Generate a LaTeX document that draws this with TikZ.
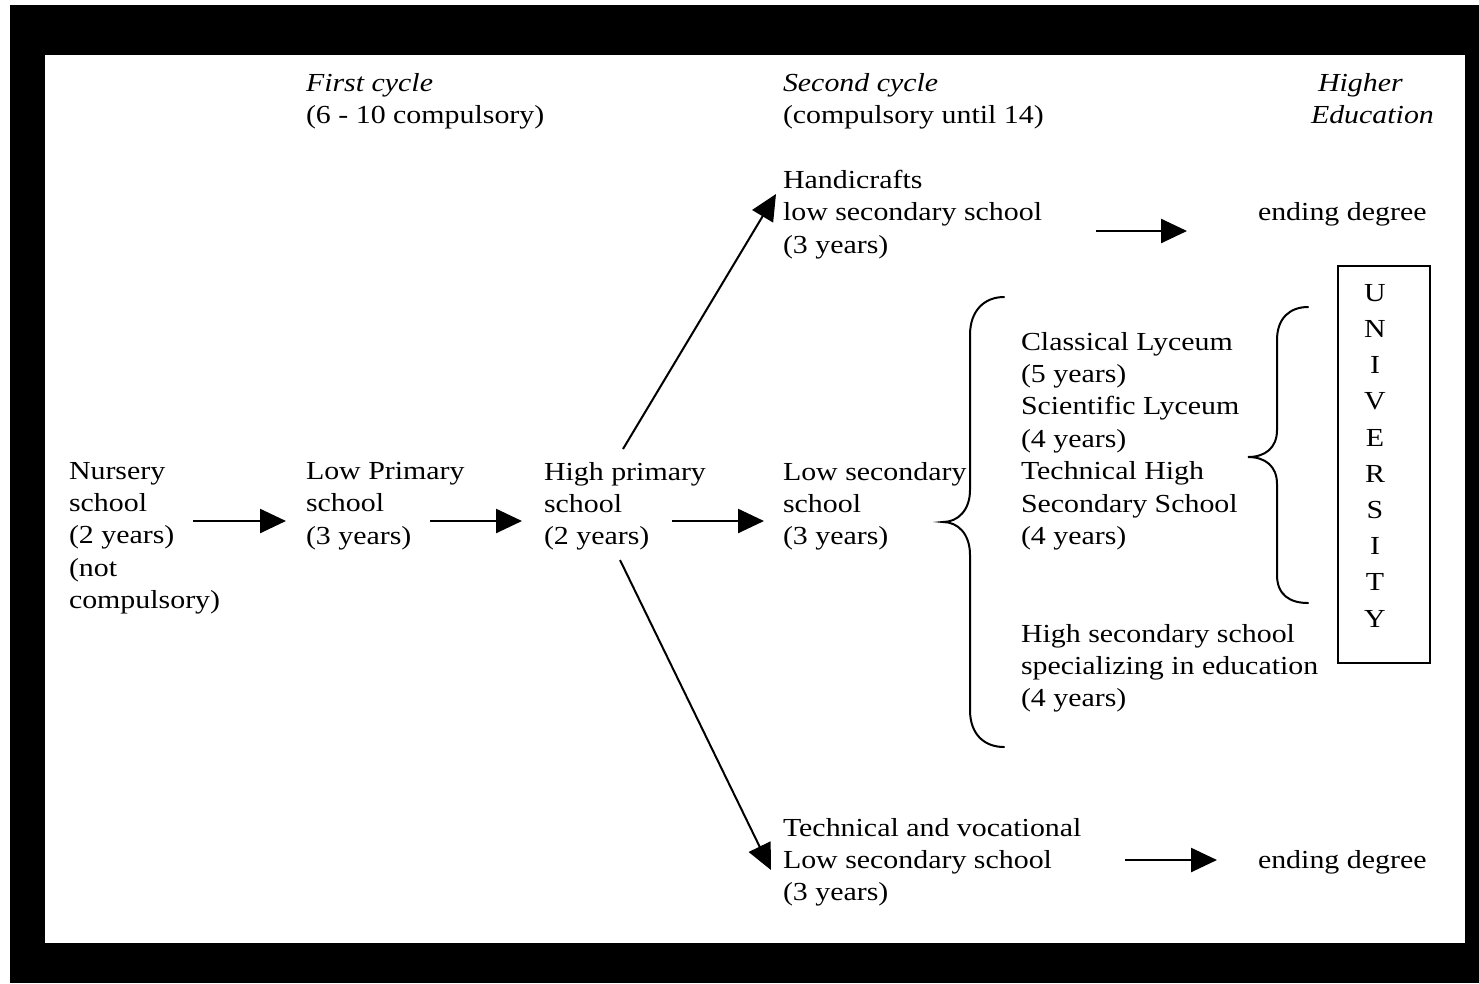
\documentclass[tikz,border=0pt]{standalone}
\usepackage{fontspec}
\setmainfont{Liberation Serif}[FakeStretch=1.15]
\usetikzlibrary{arrows.meta}
\begin{document}
\begin{tikzpicture}[x=1pt,y=-1pt,
  txt/.style={anchor=north west, inner sep=0pt, outer sep=0pt, align=left, font=\fontsize{26}{32.4}\selectfont},
  arr/.style={line width=2.5pt, -{Triangle[length=26pt,width=24pt]}},
  brace/.style={line width=2pt, line cap=round}]
\fill[white] (0,0) rectangle (1479,983);
\useasboundingbox (0,0) rectangle (1479,983);
\fill[black] (10,5) rectangle (1479,983);
\fill[white] (45,55) rectangle (1465,943);

% headings
\node[txt] (h1) at (306,73) {\itshape First cycle\\(6 - 10 compulsory)};
\node[txt] (h2) at (783,73) {\itshape Second cycle\\(compulsory until 14)};
\node[txt] (h3) at (1311,73) {\itshape\hspace{7pt}Higher\\\itshape Education};

% main row
\node[txt] (nur) at (69,462) {Nursery\\school\\(2 years)\\(not\\compulsory)};
\node[txt] (lowp) at (306,462) {Low Primary\\school\\(3 years)};
\node[txt] (highp) at (544,462) {High primary\\school\\(2 years)};
\node[txt] (lows) at (783,462) {Low secondary\\school\\(3 years)};

\node[txt] (hand) at (783,170) {Handicrafts\\low secondary school\\(3 years)};
\node[txt] (end1) at (1258,202) {ending degree};
\node[txt] (tech) at (783,818) {Technical and vocational\\Low secondary school\\(3 years)};
\node[txt] (end2) at (1258,850) {ending degree};

\node[txt] (lyc) at (1021,332) {Classical Lyceum\\(5 years)\\Scientific Lyceum\\(4 years)\\Technical High\\Secondary School\\(4 years)};
\node[txt] (edu) at (1021,624) {High secondary school\\specializing in education\\(4 years)};

\node[draw, line width=2pt, anchor=north west, minimum width=92pt, minimum height=397pt, inner sep=0pt] (univ) at (1337,265) {};
\node[anchor=north, inner sep=0pt, align=center, font=\fontsize{26}{36.2}\selectfont] (univtxt) at (1375,284)
      {U\\N\\I\\V\\E\\R\\S\\I\\T\\Y};

% connector end points
\coordinate (a1s) at (193,521); \coordinate (a1e) at (286,521);
\coordinate (a2s) at (430,521); \coordinate (a2e) at (522,521);
\coordinate (a3s) at (672,521); \coordinate (a3e) at (764,521);
\coordinate (dus) at (623,449); \coordinate (due) at (776,194);
\coordinate (dds) at (620,560); \coordinate (dde) at (771,870);
\coordinate (e1s) at (1096,231); \coordinate (e1e) at (1187,231);
\coordinate (e2s) at (1125,860); \coordinate (e2e) at (1217,860);

\draw[arr] (a1s) -- (a1e);
\draw[arr] (a2s) -- (a2e);
\draw[arr] (a3s) -- (a3e);
\draw[arr, line width=2pt] (dus) -- (due);
\draw[arr, line width=2pt] (dds) -- (dde);
\draw[arr] (e1s) -- (e1e);
\draw[arr] (e2s) -- (e2e);

% braces
\draw[brace] (1004,297) .. controls (985,297) and (970,310) .. (970,335) -- (970,490)
  .. controls (970,510) and (958,522) .. (943,522)
  .. controls (958,522) and (970,534) .. (970,555) -- (970,710)
  .. controls (970,735) and (985,747) .. (1004,747);
\draw[brace] (1308,307) .. controls (1290,307) and (1277,318) .. (1277,340) -- (1277,430)
  .. controls (1277,448) and (1265,457) .. (1248,457)
  .. controls (1265,457) and (1277,466) .. (1277,484) -- (1277,575)
  .. controls (1277,595) and (1290,603) .. (1308,603);
\end{tikzpicture}
\end{document}
